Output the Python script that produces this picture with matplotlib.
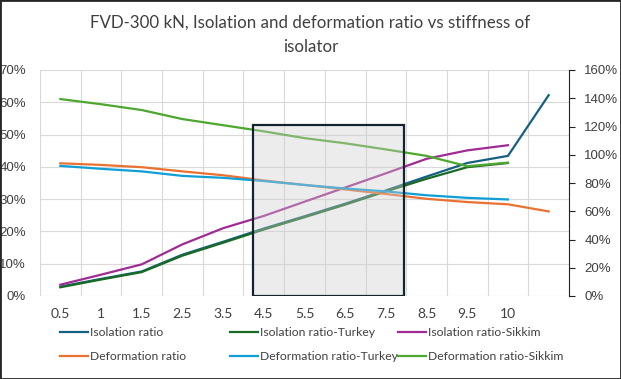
import numpy as np
import matplotlib
matplotlib.use("Agg")
import matplotlib.pyplot as plt
from matplotlib.patches import Rectangle
from matplotlib.ticker import FuncFormatter, MultipleLocator

# stiffness of isolator (last slot has no label)
categories = ["0.5", "1", "1.5", "2.5", "3.5", "4.5", "5.5", "6.5", "7.5", "8.5", "9.5", "10", ""]

# values in % (left axis)
iso_ratio = [2.9, 5.3, 7.6, 12.8, 16.8, 20.9, 24.7, 28.6, 32.7, 37.0, 41.2, 43.4, 62.2]
iso_turkey = [2.7, 5.1, 7.4, 12.5, 16.5, 20.6, 24.4, 28.3, 32.4, 36.3, 39.9, 41.2]
iso_sikkim = [3.5, 6.6, 9.8, 16.0, 21.0, 24.8, 29.2, 33.6, 38.0, 42.5, 45.1, 46.7]
def_ratio = [41.1, 40.6, 39.9, 38.6, 37.4, 35.8, 34.4, 33.0, 31.6, 30.1, 29.1, 28.4, 26.2]
def_turkey = [40.3, 39.4, 38.6, 37.2, 36.6, 35.6, 34.4, 33.3, 32.4, 31.2, 30.4, 29.9]
def_sikkim = [61.0, 59.4, 57.6, 54.8, 52.9, 51.0, 48.9, 47.3, 45.4, 43.4, 40.2, 41.3]

# highlighted stiffness window
band_start, band_end, band_top = 4.73, 8.44, 53

series = [
    ("Isolation ratio", iso_ratio, "#156082"),
    ("Isolation ratio-Turkey", iso_turkey, "#196B24"),
    ("Isolation ratio-Sikkim", iso_sikkim, "#A02B93"),
    ("Deformation ratio", def_ratio, "#E97132"),
    ("Deformation ratio-Turkey", def_turkey, "#0F9ED5"),
    ("Deformation ratio-Sikkim", def_sikkim, "#4EA72E"),
]

fig = plt.figure(figsize=(6.21, 3.79), dpi=100)
ax = fig.add_axes([40 / 621, 1 - 296 / 379, 529 / 621, 226 / 379])

lines = []
for name, vals, col in series:
    ln, = ax.plot(np.arange(len(vals)), vals, color=col, lw=1.6, label=name, zorder=3)
    lines.append(ln)

ax.add_patch(Rectangle((band_start, 0), band_end - band_start, band_top,
                       facecolor=(0.81, 0.81, 0.81, 0.38), edgecolor="#13242f",
                       lw=1.6, zorder=5))

ax.set_xlim(-0.5, len(categories) - 0.5)
ax.set_ylim(0, 70)
ax.set_xticks(np.arange(len(categories)))
ax.set_xticklabels(categories, fontsize=10, family="Lato", color="#404040")
ax.set_xticks(np.arange(-0.5, len(categories), 1), minor=True)
ax.yaxis.set_major_locator(MultipleLocator(10))
ax.yaxis.set_major_formatter(FuncFormatter(lambda v, p: f"{v:.0f}%"))
ax.grid(which="minor", axis="x", color="#d9d9d9", lw=0.8)
ax.grid(which="major", axis="y", color="#d9d9d9", lw=0.8)
ax.tick_params(axis="x", which="both", length=0, pad=9)
ax.tick_params(axis="y", length=0, pad=10, labelsize=9.5, labelcolor="#404040")
for s in ax.spines.values():
    s.set_visible(False)
for lab in ax.get_yticklabels():
    lab.set_family("Liberation Sans")

ax2 = ax.twinx()
ax2.set_ylim(0, 160)
ax2.yaxis.set_major_locator(MultipleLocator(20))
ax2.yaxis.set_major_formatter(FuncFormatter(lambda v, p: f"{v:.0f}%"))
ax2.tick_params(axis="y", length=4, direction="out", color="#222222", pad=7,
                labelsize=9.5, labelcolor="#404040")
for lab in ax2.get_yticklabels():
    lab.set_family("Liberation Sans")
for k, s in ax2.spines.items():
    s.set_visible(k == "right")
ax2.spines["right"].set_color("#222222")

fig.text(0.5, 1 - 22.5 / 379, "FVD-300 kN, Isolation and deformation ratio vs stiffness of",
         ha="center", va="center", fontsize=12.2, family="Lato", color="#404040")
fig.text(0.5, 1 - 46.5 / 379, "isolator",
         ha="center", va="center", fontsize=12.2, family="Lato", color="#404040")

col_x = [60, 230, 398]
for i, cx in enumerate(col_x):
    fig.legend([lines[i], lines[i + 3]], [series[i][0], series[i + 3][0]],
               loc="upper left", bbox_to_anchor=(cx / 621, 1 - 327 / 379),
               frameon=False, handlelength=2.3, handletextpad=0.2,
               labelspacing=1.1, borderpad=0, borderaxespad=0,
               prop={"family": "Lato", "size": 8.7}, labelcolor="#404040")

fig.patches.append(Rectangle((0, 0), 1, 1, transform=fig.transFigure, fill=False,
                             edgecolor="#262626", lw=2))

fig.savefig("out.png", dpi=100)
